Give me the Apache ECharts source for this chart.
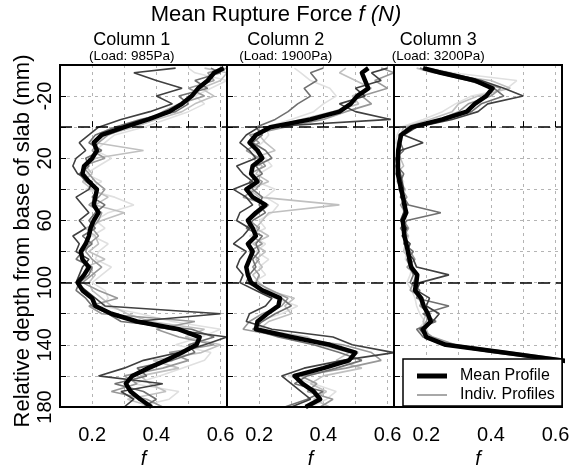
<!DOCTYPE html>
<html><head><meta charset="utf-8">
<script src="https://cdn.jsdelivr.net/npm/echarts@6/dist/echarts.min.js"></script>
<style>html,body{margin:0;padding:0;background:#fff}#c{width:569px;height:467px}</style>
</head><body><div id="c"></div>
<script>
// Depth (mm) relative to base of slab
const depths = [-38,-35,-30,-25,-20,-15,-10,-5,0,5,10,15,20,25,30,35,40,45,50,55,60,65,70,75,80,85,90,95,100,105,110,115,120,125,130,135,140,145,150,155,160,165,170,175,180];

// Column 1 (Load: 985Pa)
const c1Mean = [0.61,0.58,0.56,0.53,0.51,0.48,0.44,0.375,0.30,0.23,0.205,0.215,0.20,0.175,0.17,0.19,0.215,0.21,0.205,0.22,0.205,0.195,0.19,0.18,0.165,0.17,0.19,0.175,0.155,0.17,0.20,0.21,0.26,0.34,0.47,0.535,0.525,0.48,0.43,0.375,0.325,0.305,0.32,0.35,0.385];
const c1P1 = [0.46,0.33,0.40,0.48,0.40,0.45,0.38,0.29,0.22,0.19,0.16,0.18,0.15,0.14,0.155,0.20,0.19,0.15,0.17,0.19,0.16,0.18,0.14,0.16,0.15,0.19,0.17,0.16,0.15,0.18,0.21,0.24,0.60,0.33,0.44,0.62,0.55,0.47,0.36,0.30,0.22,0.42,0.29,0.33,0.30];
const c1P2 = [0.57,0.60,0.52,0.56,0.47,0.50,0.46,0.35,0.27,0.21,0.19,0.23,0.18,0.19,0.16,0.18,0.22,0.20,0.24,0.21,0.19,0.21,0.17,0.20,0.17,0.15,0.20,0.19,0.16,0.15,0.18,0.20,0.25,0.29,0.51,0.58,0.50,0.52,0.45,0.34,0.37,0.27,0.36,0.40,0.36];
const c1P3 = [0.62,0.56,0.58,0.50,0.55,0.47,0.42,0.38,0.31,0.25,0.22,0.20,0.24,0.17,0.19,0.21,0.24,0.22,0.19,0.23,0.22,0.20,0.22,0.19,0.18,0.20,0.23,0.20,0.17,0.22,0.28,0.19,0.23,0.52,0.40,0.47,0.58,0.44,0.50,0.42,0.30,0.34,0.26,0.37,0.42];
const c1P4 = [0.55,0.62,0.60,0.54,0.58,0.52,0.48,0.40,0.33,0.24,0.21,0.36,0.21,0.18,0.20,0.17,0.20,0.25,0.21,0.30,0.23,0.18,0.21,0.22,0.19,0.24,0.18,0.21,0.19,0.20,0.23,0.26,0.31,0.38,0.55,0.49,0.60,0.54,0.39,0.47,0.35,0.38,0.43,0.31,0.39];
const c1P5 = [0.50,0.52,0.62,0.57,0.52,0.55,0.50,0.43,0.36,0.27,0.24,0.21,0.26,0.22,0.18,0.23,0.18,0.27,0.33,0.25,0.21,0.24,0.20,0.25,0.22,0.21,0.26,0.23,0.20,0.24,0.25,0.23,0.35,0.45,0.60,0.54,0.46,0.57,0.55,0.48,0.41,0.33,0.47,0.44,0.34];

// Column 2 (Load: 1900Pa)
const c2Mean = [0.54,0.52,0.53,0.54,0.505,0.485,0.45,0.36,0.235,0.19,0.17,0.195,0.21,0.18,0.175,0.195,0.16,0.18,0.22,0.19,0.165,0.18,0.19,0.165,0.18,0.17,0.16,0.165,0.175,0.21,0.265,0.26,0.225,0.195,0.19,0.30,0.42,0.50,0.48,0.40,0.31,0.335,0.37,0.39,0.345];
const c2P1 = [0.60,0.55,0.58,0.50,0.53,0.45,0.50,0.61,0.20,0.16,0.14,0.17,0.19,0.13,0.15,0.18,0.12,0.16,0.18,0.14,0.13,0.17,0.15,0.12,0.16,0.14,0.13,0.15,0.14,0.19,0.24,0.22,0.17,0.16,0.24,0.43,0.49,0.62,0.46,0.34,0.27,0.30,0.33,0.36,0.30];
const c2P2 = [0.40,0.36,0.38,0.34,0.36,0.32,0.29,0.25,0.19,0.21,0.18,0.22,0.24,0.19,0.21,0.17,0.18,0.21,0.20,0.22,0.18,0.16,0.21,0.19,0.20,0.18,0.19,0.17,0.16,0.22,0.27,0.30,0.25,0.21,0.18,0.26,0.37,0.45,0.52,0.44,0.35,0.31,0.40,0.35,0.28];
const c2P3 = [0.58,0.62,0.56,0.60,0.52,0.55,0.47,0.40,0.28,0.17,0.20,0.16,0.20,0.22,0.17,0.21,0.19,0.15,0.23,0.20,0.17,0.20,0.18,0.21,0.17,0.20,0.18,0.20,0.19,0.24,0.29,0.27,0.21,0.17,0.15,0.28,0.46,0.55,0.58,0.47,0.33,0.38,0.35,0.43,0.39];
const c2P4 = [0.47,0.45,0.50,0.55,0.49,0.51,0.43,0.33,0.24,0.20,0.22,0.25,0.18,0.21,0.19,0.23,0.17,0.20,0.45,0.23,0.21,0.19,0.23,0.18,0.22,0.19,0.21,0.18,0.20,0.23,0.31,0.28,0.30,0.23,0.20,0.35,0.39,0.48,0.44,0.52,0.40,0.36,0.41,0.37,0.42];
const c2P5 = [0.31,0.33,0.36,0.42,0.44,0.40,0.37,0.30,0.22,0.23,0.21,0.18,0.22,0.24,0.20,0.19,0.25,0.22,0.26,0.24,0.20,0.22,0.17,0.22,0.19,0.23,0.20,0.22,0.18,0.20,0.25,0.32,0.27,0.19,0.22,0.31,0.44,0.51,0.47,0.42,0.29,0.37,0.44,0.41,0.36];

// Column 3 (Load: 3200Pa); deeper values are hidden behind the legend
const c3Mean = [0.19,0.245,0.35,0.405,0.385,0.35,0.325,0.25,0.155,0.122,0.117,0.113,0.112,0.112,0.112,0.117,0.122,0.128,0.132,0.138,0.127,0.13,0.132,0.138,0.143,0.148,0.153,0.172,0.169,0.165,0.184,0.192,0.205,0.214,0.19,0.20,0.26,0.44,0.62,0.76,null,null,null,null,null];
const c3P1 = [0.20,0.27,0.37,0.44,0.50,0.39,0.36,0.28,0.17,0.13,0.19,0.12,0.11,0.115,0.12,0.125,0.13,0.12,0.14,0.13,0.12,0.14,0.125,0.15,0.14,0.16,0.17,0.27,0.18,0.17,0.21,0.20,0.24,0.22,0.18,0.20,0.27,0.43,0.64,0.78,null,null,null,null,null];
const c3P2 = [0.18,0.23,0.33,0.41,0.44,0.37,0.34,0.26,0.15,0.115,0.12,0.13,0.105,0.11,0.13,0.12,0.115,0.13,0.145,0.245,0.14,0.12,0.14,0.13,0.16,0.14,0.15,0.16,0.15,0.18,0.17,0.27,0.19,0.23,0.17,0.19,0.25,0.41,0.60,0.74,null,null,null,null,null];
const c3P3 = [0.19,0.25,0.36,0.43,0.40,0.33,0.30,0.24,0.14,0.125,0.115,0.11,0.12,0.105,0.115,0.11,0.125,0.14,0.12,0.135,0.13,0.145,0.13,0.14,0.15,0.165,0.14,0.17,0.16,0.15,0.19,0.18,0.21,0.20,0.185,0.22,0.29,0.47,0.65,0.77,null,null,null,null,null];
const c3P4 = [0.17,0.22,0.40,0.46,0.36,0.30,0.28,0.21,0.13,0.12,0.11,0.115,0.12,0.13,0.105,0.12,0.135,0.125,0.13,0.14,0.125,0.13,0.145,0.135,0.13,0.15,0.16,0.165,0.17,0.16,0.175,0.19,0.20,0.19,0.20,0.21,0.28,0.45,0.63,0.76,null,null,null,null,null];
const c3P5 = [0.21,0.28,0.48,0.45,0.34,0.29,0.25,0.19,0.12,0.11,0.105,0.12,0.115,0.12,0.11,0.13,0.12,0.135,0.125,0.13,0.14,0.125,0.135,0.145,0.14,0.135,0.155,0.15,0.14,0.155,0.165,0.17,0.18,0.195,0.175,0.20,0.24,0.42,0.61,0.75,null,null,null,null,null];

const xTickLabels = ['0.2','0.4','0.6'];
const yTickLabels = [-20,20,60,100,140,180];
const boundaryDepths = [0,100];
const panelNames = ['Column 1','Column 2','Column 3'];
const panelLoads = ['(Load: 985Pa)','(Load: 1900Pa)','(Load: 3200Pa)'];
const yTitle = 'Relative depth from base of slab (mm)';

const panels = [
  {mean: c1Mean, indiv: [c1P5, c1P4, c1P3, c1P2, c1P1]},
  {mean: c2Mean, indiv: [c2P5, c2P4, c2P3, c2P2, c2P1]},
  {mean: c3Mean, indiv: [c3P5, c3P4, c3P3, c3P2, c3P1]}
];
const indivColors = ['#e0e0e0','#c0c0c0','#989898','#707070','#404040'];

const FONT = '"Liberation Sans", Arial, Helvetica, sans-serif';
const gridBoxes = [{left:60,width:167},{left:227,width:167},{left:394,width:168}];
const gridTop = 65, gridHeight = 342;

function toPairs(vals){
  const out = [];
  for (let i = 0; i < depths.length; i++) if (vals[i] != null) out.push([vals[i], depths[i]]);
  return out;
}

const gridLine = {show:true, showMinLine:false, showMaxLine:false, lineStyle:{color:'#b4b4b4', type:[3,4], width:1}};
const grid = [], xAxis = [], yAxis = [], series = [];
gridBoxes.forEach((g, i) => {
  grid.push({left:g.left, width:g.width, top:gridTop, height:gridHeight, show:false,
    containLabel:false, outerBoundsMode:'none'});
  xAxis.push({gridIndex:i, type:'value', min:0.1, max:0.62, interval:0.1,
    name:'f', nameLocation:'middle', nameGap:40,
    nameTextStyle:{fontFamily:FONT, fontSize:20, fontStyle:'italic', color:'#000'},
    axisLine:{show:false},
    axisTick:{show:true, inside:true, length:6, lineStyle:{color:'#000', width:1}},
    axisLabel:{fontFamily:FONT, fontSize:20, color:'#000', margin:18, hideOverlap:false,
      formatter: v => { const t = v.toFixed(1); return (Math.abs(v - parseFloat(t)) < 1e-9 && xTickLabels.includes(t)) ? t : ''; }},
    splitLine:gridLine});
  yAxis.push({gridIndex:i, type:'value', inverse:true, min:-40, max:180, interval:20,
    axisLine:{show:false},
    axisTick:{show:true, inside:true, length:6, lineStyle:{color:'#000', width:1}},
    axisLabel:{show: i === 0, rotate:90, fontFamily:FONT, fontSize:20, color:'#000', margin:5, hideOverlap:false,
      formatter: v => yTickLabels.includes(Math.round(v)) && Math.abs(v - Math.round(v)) < 1e-9 ? String(Math.round(v)) : ''},
    splitLine:gridLine});
  const p = panels[i];
  p.indiv.forEach((vals, k) => {
    series.push({type:'line', name:'Indiv. Profiles', xAxisIndex:i, yAxisIndex:i,
      data: toPairs(vals), symbol:'none', showSymbol:false, clip:true, silent:true,
      lineStyle:{color:indivColors[k], width:1.6}, itemStyle:{color:indivColors[k]},
      emphasis:{disabled:true}, animation:false, z:2});
  });
  series.push({type:'line', name:'Mean Profile', xAxisIndex:i, yAxisIndex:i,
    data: toPairs(p.mean), symbol:'none', showSymbol:false, clip:true, silent:true,
    lineStyle:{color:'#000', width:4.5, join:'round'}, itemStyle:{color:'#000'},
    emphasis:{disabled:true}, animation:false, z:2,
    markLine:{silent:true, symbol:['none','none'], animation:false, label:{show:false},
      lineStyle:{color:'#000', width:1.5, type:[12,6]},
      emphasis:{disabled:true},
      data: boundaryDepths.map(d => ({yAxis:d}))}});
});

const textEl = (x, y, text, size, extra) => Object.assign({type:'text', x:x, y:y, z:10,
  style:{text:text, fill:'#000', font: size + 'px ' + FONT, fontSize:size, fontFamily:FONT,
    align:'center', verticalAlign:'middle', textAlign:'center', textVerticalAlign:'middle'}}, extra || {});

const labelX = [131.7, 285.7, 438.3];
const graphic = [
  {type:'text', x:276, y:15, z:10, style:{
    text:'{a|Mean Rupture Force }{b|f (N)}', fill:'#000',
    align:'center', verticalAlign:'middle', textAlign:'center', textVerticalAlign:'middle',
    rich:{a:{fontFamily:FONT, fontSize:22, fill:'#000', color:'#000'}, b:{fontFamily:FONT, fontSize:22, fontStyle:'italic', fill:'#000', color:'#000'}}}},
  textEl(23, 241, yTitle, 22, {rotation: Math.PI / 2})
];
// panel frames drawn above the data lines
gridBoxes.forEach(g => {
  graphic.push({type:'rect', z:3, silent:true, shape:{x:g.left, y:gridTop, width:g.width, height:gridHeight},
    style:{fill:'transparent', stroke:'#000', lineWidth:2}});
});
graphic.push({type:'rect', z:4, shape:{x:403, y:359, width:159, height:47}, style:{fill:'#fff', stroke:'#000', lineWidth:1.5}});
panelNames.forEach((n, i) => {
  graphic.push(textEl(labelX[i], 40, n, 18));
  graphic.push(textEl(labelX[i], 56, panelLoads[i], 13.5));
});

const legendBase = {orient:'horizontal', left:417, itemWidth:30, icon:'rect', padding:0, selectedMode:false, z:6,
  textStyle:{fontFamily:FONT, fontSize:16, color:'#000', padding:[0,0,0,8]}};
const option = {
  animation:false,
  backgroundColor:'#fff',
  grid, xAxis, yAxis, series, graphic,
  legend:[
    Object.assign({}, legendBase, {top:368, itemHeight:5, data:[{name:'Mean Profile', itemStyle:{color:'#000'}}]}),
    Object.assign({}, legendBase, {top:387, itemHeight:2, data:[{name:'Indiv. Profiles', itemStyle:{color:'#a8a8a8'}}]})
  ]
};
const chart = echarts.init(document.getElementById('c'), null, {renderer:'canvas'});
chart.setOption(option);
</script></body></html>
